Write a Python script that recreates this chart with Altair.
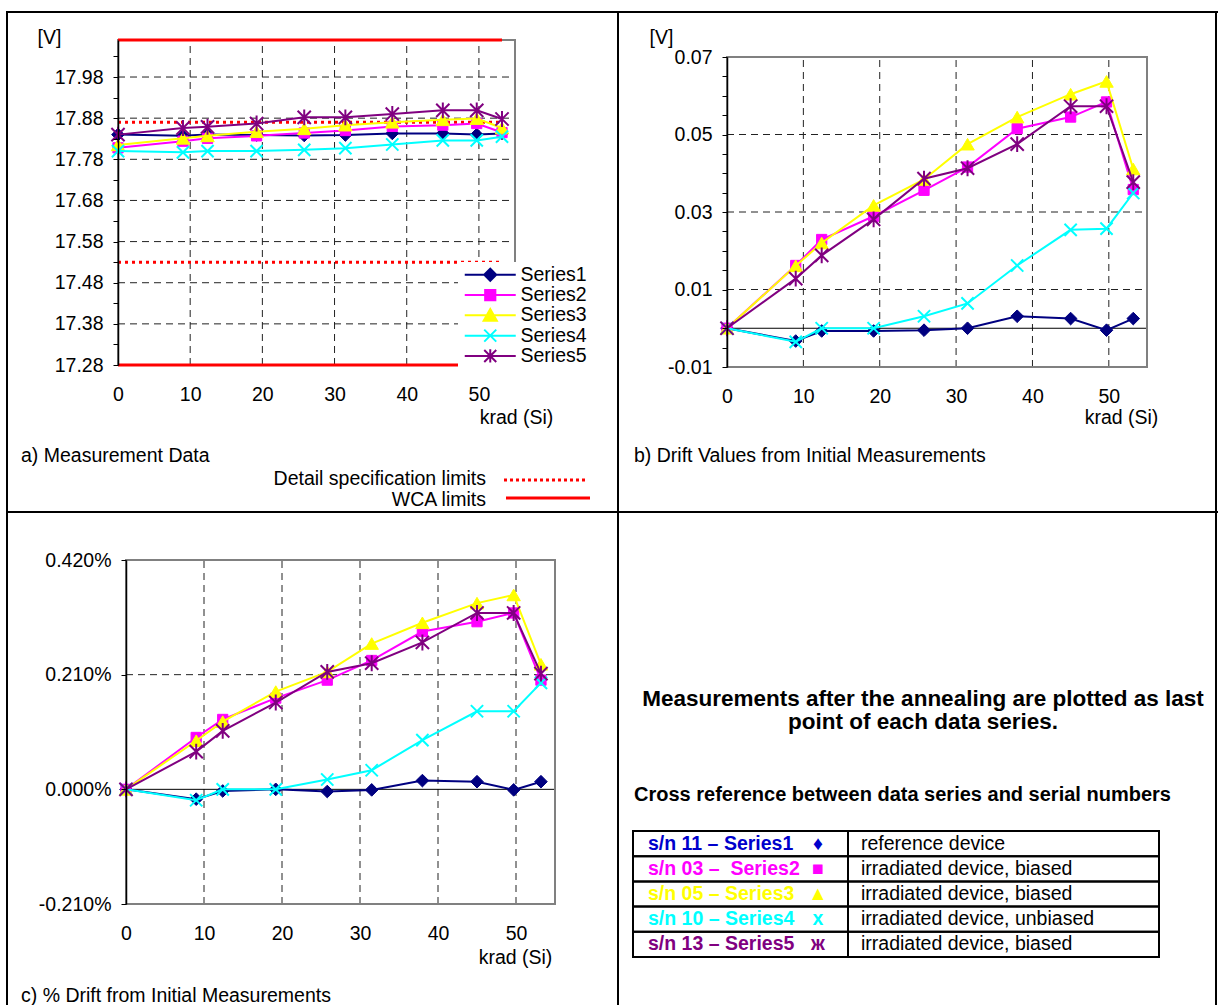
import altair as alt
import pandas as pd

FONT = "Liberation Sans"
FS = 19.5

# ---------------- data ----------------
krad = [0, 9, 12.4, 19.2, 25.8, 31.5, 38, 45, 49.7, 53.2]
series_names = ["Series1", "Series2", "Series3", "Series4", "Series5"]
series_colors = ["#000080", "#FF00FF", "#FFFF00", "#00FFFF", "#800080"]

# a) measurement data [V]
volt_s1 = [17.840, 17.837, 17.840, 17.839, 17.838, 17.839, 17.843, 17.843, 17.840, 17.843]
volt_s2 = [17.808, 17.824, 17.831, 17.837, 17.844, 17.850, 17.860, 17.863, 17.867, 17.845]
volt_s3 = [17.815, 17.831, 17.837, 17.847, 17.854, 17.863, 17.870, 17.876, 17.879, 17.856]
volt_s4 = [17.800, 17.797, 17.800, 17.800, 17.803, 17.807, 17.816, 17.826, 17.826, 17.835]
volt_s5 = [17.840, 17.856, 17.859, 17.867, 17.882, 17.882, 17.890, 17.899, 17.899, 17.878]

# b) drift [V]
drift_s1 = [0, -0.0033, -0.0007, -0.0007, -0.0005, 0.0, 0.0031, 0.0025, -0.0005, 0.0025]
drift_s2 = [0, 0.0162, 0.0229, 0.0289, 0.0356, 0.0416, 0.0515, 0.0545, 0.0584, 0.0358]
drift_s3 = [0, 0.0161, 0.0220, 0.0317, 0.0384, 0.0475, 0.0545, 0.0604, 0.0637, 0.0411]
drift_s4 = [0, -0.0035, 0.0, 0.0, 0.0031, 0.0064, 0.0162, 0.0254, 0.0257, 0.0349]
drift_s5 = [0, 0.0128, 0.0188, 0.0281, 0.0386, 0.0413, 0.0475, 0.0573, 0.0573, 0.0377]

# c) drift [%]
pct_s1 = [0, -0.018, -0.003, 0.0, -0.004, -0.001, 0.016, 0.014, -0.001, 0.014]
pct_s2 = [0, 0.095, 0.128, 0.167, 0.200, 0.236, 0.289, 0.307, 0.323, 0.200]
pct_s3 = [0, 0.089, 0.124, 0.179, 0.215, 0.267, 0.305, 0.341, 0.356, 0.229]
pct_s4 = [0, -0.020, 0.0, 0.0, 0.018, 0.035, 0.090, 0.143, 0.143, 0.195]
pct_s5 = [0, 0.069, 0.107, 0.159, 0.215, 0.231, 0.269, 0.323, 0.323, 0.212]

# limits (panel a)
wca_limits = [17.28, 18.07]
spec_limits = [17.53, 17.87]

# axis ticks
x_ticks = [0, 10, 20, 30, 40, 50]
grid_x = [10, 20, 30, 40, 50]
a_ticks = [17.28, 17.33, 17.38, 17.43, 17.48, 17.53, 17.58, 17.63, 17.68, 17.73,
           17.78, 17.83, 17.88, 17.93, 17.98, 18.03]
a_grid = [17.38, 17.48, 17.58, 17.68, 17.78, 17.88, 17.98]
b_ticks = [-0.01, -0.005, 0.0, 0.005, 0.01, 0.015, 0.02, 0.025, 0.03, 0.035,
           0.04, 0.045, 0.05, 0.055, 0.06, 0.065, 0.07]
b_grid = [0.01, 0.03, 0.05]
c_ticks = [-0.21, 0.0, 0.21, 0.42]
c_grid = [0.21]
zero = [0.0]

# markers
marker_shapes = ["diamond", "square", "triangle-up",
                 "M-1,-1L1,1M-1,1L1,-1",
                 "M-1,-1L1,1M-1,1L1,-1M0,-1.2L0,1.2"]
marker_sizes = [160, 105, 180, 150, 175]
marker_strokes = [1, 1, 1, 2, 2]
# legend symbols: line segment with the series marker in its middle
legend_symbols = [
    "M-1,0H7.5M2.25,0L3.25,-1L4.25,0L3.25,1Z",
    "M-1,0H7.5M2.4,-0.85H4.1V0.85H2.4Z",
    "M-1,0H7.5M3.25,-1.05L4.35,0.9H2.15Z",
    "M-1,0H7.5M2.25,-1L4.25,1M2.25,1L4.25,-1",
    "M-1,0H7.5M2.25,-1L4.25,1M2.25,1L4.25,-1M3.25,-1.1V1.1",
]

# table (panel d)
table_sn = ["s/n 11 \u2013 Series1", "s/n 03 \u2013\u00a0 Series2", "s/n 05 \u2013 Series3",
            "s/n 10 \u2013 Series4", "s/n 13 \u2013 Series5"]
table_sym = ["\u2666", "\u25a0", "\u25b2", "x", "\u0436"]
table_desc = ["reference device", "irradiated device, biased", "irradiated device, biased",
              "irradiated device, unbiased", "irradiated device, biased"]
table_colors = ["#0000CC", "#FF00FF", "#FFFF00", "#00FFFF", "#800080"]


def long_df(arrays):
    rows = []
    for name, arr in zip(series_names, arrays):
        for k, v in zip(krad, arr):
            rows.append({"series": name, "krad": k, "value": v})
    return pd.DataFrame(rows)


df_a = long_df([volt_s1, volt_s2, volt_s3, volt_s4, volt_s5])
df_b = long_df([drift_s1, drift_s2, drift_s3, drift_s4, drift_s5])
df_c = long_df([pct_s1, pct_s2, pct_s3, pct_s4, pct_s5])
one = pd.DataFrame({"k": [0]})

DASH = [7, 5]
GRID_COLOR = "#222222"


def scales(xrange, ydom, yrange):
    sx = alt.Scale(domain=[0, 55], range=xrange, nice=False, zero=False)
    sy = alt.Scale(domain=ydom, range=yrange, nice=False, zero=False)
    return sx, sy


def panel(df, xrange, ydom, yrange, hgrid, zero_line, extra=None):
    sx, sy = scales(xrange, ydom, yrange)
    layers = []
    layers.append(
        alt.Chart(pd.DataFrame({"gx": grid_x})).mark_rule(
            color=GRID_COLOR, strokeWidth=1, strokeDash=DASH).encode(
            x=alt.X("gx:Q", scale=sx, axis=None),
            y=alt.YDatum(ydom[0], type="quantitative", scale=sy, axis=None),
            y2=alt.Y2Datum(ydom[1]))
    )
    layers.append(
        alt.Chart(pd.DataFrame({"gy": hgrid})).mark_rule(
            color=GRID_COLOR, strokeWidth=1, strokeDash=DASH).encode(
            y=alt.Y("gy:Q", scale=sy, axis=None),
            x=alt.XDatum(0, type="quantitative", scale=sx, axis=None),
            x2=alt.X2Datum(55))
    )
    if zero_line:
        layers.append(
            alt.Chart(pd.DataFrame({"z": zero})).mark_rule(color="black", strokeWidth=1).encode(
                y=alt.Y("z:Q", scale=sy, axis=None),
                x=alt.XDatum(0, type="quantitative", scale=sx, axis=None),
                x2=alt.X2Datum(55))
        )
    layers.append(
        alt.Chart(one).mark_rect(fill="transparent", stroke="#808080", strokeWidth=2).encode(
            x=alt.XDatum(0, type="quantitative", scale=sx, axis=None),
            x2=alt.X2Datum(55),
            y=alt.YDatum(ydom[0], type="quantitative", scale=sy, axis=None),
            y2=alt.Y2Datum(ydom[1]))
    )
    if extra is not None:
        layers.extend(extra(sx, sy))
    for i, s in enumerate(series_names):
        base = alt.Chart(df).transform_filter(alt.datum.series == s)
        c = series_colors[i]
        layers.append(base.mark_line(color=c, strokeWidth=2).encode(
            x=alt.X("krad:Q", scale=sx, axis=None),
            y=alt.Y("value:Q", scale=sy, axis=None)))
        layers.append(base.mark_point(
            shape=marker_shapes[i], size=marker_sizes[i], filled=True, fill=c, stroke=c,
            strokeWidth=marker_strokes[i], opacity=1).encode(
            x=alt.X("krad:Q", scale=sx, axis=None),
            y=alt.Y("value:Q", scale=sy, axis=None)))
    return alt.layer(*layers)


def axes_layer(df, xrange, ydom, yrange, yticks, label_expr, ytitle, ytitle_xy, xtitle_xy,
               label_pad_y):
    sx, sy = scales(xrange, ydom, yrange)
    x_axis = alt.Axis(
        values=x_ticks, orient="bottom", offset=yrange[0] - 1005, domain=False, ticks=False,
        grid=False, labelFont=FONT, labelFontSize=FS, labelColor="black", labelPadding=20,
        labelFlush=False, labelOverlap=False, title="krad (Si)", titleFont=FONT,
        titleFontSize=FS, titleFontWeight="normal", titleColor="black",
        titleX=xtitle_xy[0], titleY=xtitle_xy[1] - yrange[0], titleAlign="center",
        titleBaseline="middle", titleAngle=0, zindex=2)
    y_kw = dict(
        values=yticks, orient="left", offset=-xrange[0], domain=True, domainColor="black",
        domainWidth=1.5, ticks=True, tickColor="black", tickSize=5, tickWidth=1,
        labelExpr=label_expr, labelFont=FONT, labelFontSize=FS, labelColor="black",
        labelPadding=label_pad_y, labelOverlap=False, labelFlush=False, labelBound=False,
        grid=False, zindex=2)
    if ytitle:
        y_kw.update(title=ytitle, titleFont=FONT, titleFontSize=FS, titleFontWeight="normal",
                    titleColor="black", titleAngle=0, titleAlign="center",
                    titleBaseline="middle", titleX=ytitle_xy[0] - xrange[0],
                    titleY=ytitle_xy[1])
    else:
        y_kw.update(title=None)
    y_axis = alt.Axis(**y_kw)
    return alt.Chart(df).mark_point(opacity=0).encode(
        x=alt.X("krad:Q", scale=sx, axis=x_axis),
        y=alt.Y("value:Q", scale=sy, axis=y_axis))


def limits_a(sx, sy):
    wca = alt.Chart(pd.DataFrame({"w": wca_limits})).mark_rule(
        color="#FF0000", strokeWidth=3).encode(
        y=alt.Y("w:Q", scale=sy, axis=None),
        x=alt.XDatum(0, type="quantitative", scale=sx, axis=None),
        x2=alt.X2Datum(krad[-1]))
    spec = alt.Chart(pd.DataFrame({"s": spec_limits})).mark_rule(
        color="#FF0000", strokeWidth=3, strokeDash=[3, 4]).encode(
        y=alt.Y("s:Q", scale=sy, axis=None),
        x=alt.XDatum(0, type="quantitative", scale=sx, axis=None),
        x2=alt.X2Datum(krad[-1]))
    return [spec, wca]


A = dict(xrange=[118, 515], ydom=[17.28, 18.07], yrange=[365, 40])
B = dict(xrange=[727, 1147], ydom=[-0.01, 0.07], yrange=[367, 57])
C = dict(xrange=[126, 555], ydom=[-0.21, 0.42], yrange=[904, 560])

panel_a = panel(df_a, hgrid=a_grid, zero_line=False, extra=limits_a, **A)
panel_b = panel(df_b, hgrid=b_grid, zero_line=True, **B)
panel_c = panel(df_c, hgrid=c_grid, zero_line=True, **C)

axes_a = axes_layer(df_a, yticks=a_ticks,
                    label_expr="round(datum.value*100) % 10 == 8 ? format(datum.value, '.2f') : ''",
                    ytitle="[V]", ytitle_xy=(49, 37), xtitle_xy=(516, 417), label_pad_y=10, **A)
axes_b = axes_layer(df_b, yticks=b_ticks,
                    label_expr="abs(round(datum.value*1000)) % 20 == 10 ? replace(format(datum.value, '.2f'), '\u2212', '-') : ''",
                    ytitle="[V]", ytitle_xy=(661, 37), xtitle_xy=(1121, 417), label_pad_y=10, **B)
axes_c = axes_layer(df_c, yticks=c_ticks,
                    label_expr="replace(format(datum.value, '.3f'), '\u2212', '-') + '%'",
                    ytitle=None, ytitle_xy=(0, 0), xtitle_xy=(515, 957), label_pad_y=10, **C)

# legend for panel a (series)
leg = alt.Legend(orient="none", legendX=458, legendY=262, title=None, labelFont=FONT,
                 labelFontSize=FS, labelColor="black", symbolSize=144, symbolStrokeWidth=2,
                 labelOffset=40, rowPadding=-0.7, padding=3, fillColor="white",
                 symbolOpacity=1)
legend_layer = alt.Chart(df_a).transform_filter("false").mark_point(
    filled=True, size=144, strokeWidth=2).encode(
    fill=alt.Fill("series:N", scale=alt.Scale(domain=series_names, range=series_colors), legend=leg),
    stroke=alt.Stroke("series:N", scale=alt.Scale(domain=series_names, range=series_colors), legend=leg),
    shape=alt.Shape("series:N", scale=alt.Scale(domain=series_names, range=legend_symbols), legend=leg),
)


def txt(s, x, y, size=FS, weight="normal", align="left", color="black"):
    return alt.Chart(one).mark_text(
        text=s, align=align, baseline="middle", font=FONT, fontSize=size,
        fontWeight=weight, color=color).encode(x=alt.value(x), y=alt.value(y))


def hline(x1, x2, y, width=2, color="black", dash=None):
    kw = dict(color=color, strokeWidth=width)
    if dash:
        kw["strokeDash"] = dash
    return alt.Chart(one).mark_rule(**kw).encode(
        x=alt.value(x1), x2=alt.value(x2), y=alt.value(y))


def vline(x, y1, y2, width=2):
    return alt.Chart(one).mark_rule(color="black", strokeWidth=width).encode(
        x=alt.value(x), y=alt.value(y1), y2=alt.value(y2))


borders = [
    hline(6, 1218, 12), vline(7, 11, 1005), vline(618, 11, 1005),
    hline(6, 1218, 512), vline(1216, 11, 1005),
]

texts = [
    txt("a) Measurement Data", 21, 456),
    txt("Detail specification limits", 486, 479, align="right"),
    txt("WCA limits", 486, 500, align="right"),
    hline(504, 588, 480, width=3, color="#FF0000", dash=[3, 3]),
    hline(506, 590, 498, width=3, color="#FF0000"),
    txt("b) Drift Values from Initial Measurements", 634, 456),
    txt("c) % Drift from Initial Measurements", 21, 996),
    txt("Measurements after the annealing are plotted as last", 923, 699, size=22.5,
        weight="bold", align="center"),
    txt("point of each data series.", 923, 722, size=22.5, weight="bold", align="center"),
    txt("Cross reference between data series and serial numbers", 634, 795, size=20,
        weight="bold"),
]

# table
tab_df = pd.DataFrame({"sn": table_sn, "sym": table_sym, "desc": table_desc, "tc": table_colors})
ty = alt.Y("sn:N", scale=alt.Scale(type="band", domain=table_sn, range=[831, 957],
                                   paddingInner=0, paddingOuter=0), axis=None, sort=None)
table = alt.layer(
    alt.Chart(tab_df).mark_rect(fill="transparent", stroke="black", strokeWidth=2).encode(
        x=alt.value(633), x2=alt.value(848), y=ty),
    alt.Chart(tab_df).mark_rect(fill="transparent", stroke="black", strokeWidth=2).encode(
        x=alt.value(848), x2=alt.value(1159), y=ty),
    alt.Chart(tab_df).mark_text(align="left", baseline="middle", font=FONT, fontSize=FS,
                                fontWeight="bold").encode(
        x=alt.value(648), y=ty, text="sn:N", color=alt.Color("tc:N", scale=None)),
    alt.Chart(tab_df).mark_text(align="center", baseline="middle", font=FONT, fontSize=FS,
                                fontWeight="bold").encode(
        x=alt.value(818), y=ty, text="sym:N", color=alt.Color("tc:N", scale=None)),
    alt.Chart(tab_df).mark_text(align="left", baseline="middle", font=FONT, fontSize=FS,
                                color="black").encode(
        x=alt.value(861), y=ty, text="desc:N"),
)

chart = alt.layer(
    *borders, panel_a, panel_b, panel_c, axes_a, axes_b, axes_c, legend_layer, *texts, table
).resolve_scale(
    x="independent", y="independent", fill="independent", stroke="independent",
    shape="independent", color="independent"
).resolve_axis(
    x="independent", y="independent"
).resolve_legend(
    fill="independent", stroke="independent", shape="independent", color="independent"
).properties(
    width=1218, height=1005, autosize=alt.AutoSizeParams(type="none"), padding=0,
    background="white"
).configure_view(stroke=None)

chart.save("out.html", embed_options={"renderer": "svg", "actions": False})
